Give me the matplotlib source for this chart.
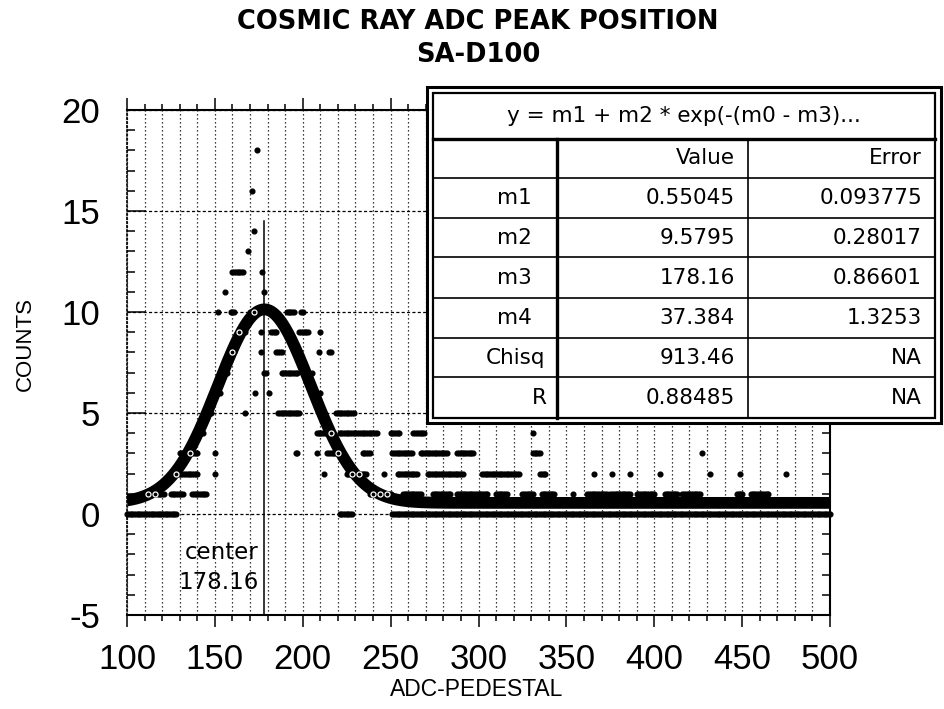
import numpy as np
import matplotlib
matplotlib.use("Agg")
import matplotlib.pyplot as plt
from matplotlib.ticker import MultipleLocator
from matplotlib.patches import Rectangle
from matplotlib.lines import Line2D

plt.rcParams["axes.unicode_minus"] = False

# ---- fit results -------------------------------------------------------
param_names = ["m1", "m2", "m3", "m4", "Chisq", "R"]
param_values = [0.55045, 9.5795, 178.16, 37.384, 913.46, 0.88485]
param_errors = [0.093775, 0.28017, 0.86601, 1.3253, None, None]
fit_formula = "y = m1 + m2 * exp(-(m0 - m3)..."

# ---- measured counts: runs of consecutive ADC channels sharing a count ---
count_runs = {
    0: [(100, 128), (221, 228), (251, 500)],
    1: [(111, 121), (125, 132), (137, 145), (238, 250), (257, 267), (274, 284),
        (288, 305), (310, 316), (325, 331), (336, 343), (354, 354), (362, 373),
        (375, 386), (390, 400), (406, 413), (416, 426), (447, 450), (455, 465)],
    2: [(125, 140), (150, 150), (212, 212), (225, 236), (246, 246), (254, 265),
        (271, 291), (302, 323), (335, 338), (366, 366), (376, 376), (386, 386),
        (403, 403), (432, 432), (449, 449), (475, 475)],
    3: [(130, 140), (150, 150), (196, 197), (208, 208), (214, 221), (234, 238),
        (251, 262), (267, 282), (288, 297), (331, 335), (427, 427)],
    4: [(141, 143), (208, 217), (221, 242), (250, 255), (263, 269), (331, 331)],
    5: [(145, 148), (167, 167), (186, 198), (219, 229)],
    6: [(150, 153), (173, 173), (181, 181), (210, 210)],
    7: [(157, 157), (178, 179), (188, 197), (205, 205)],
    8: [(160, 161), (176, 176), (185, 188), (209, 209), (215, 216)],
    9: [(164, 167), (176, 176), (182, 185), (198, 203), (210, 210)],
    10: [(152, 152), (159, 161), (170, 172), (181, 183), (191, 195), (199, 200)],
    11: [(156, 156), (178, 178)],
    12: [(160, 166), (177, 177)],
    13: [(169, 169)],
    14: [(172, 172)],
    16: [(171, 171)],
    18: [(174, 174)],
}

x_ticks = [100, 150, 200, 250, 300, 350, 400, 450, 500]
y_ticks = [-5, 0, 5, 10, 15, 20]

# ---- expand runs into points -------------------------------------------
pts_x, pts_y = [], []
for c, runs in count_runs.items():
    for a, b in runs:
        xs = np.arange(a, b + 1)
        pts_x.extend(xs)
        pts_y.extend([c] * len(xs))
pts_x = np.array(pts_x, dtype=float)
pts_y = np.array(pts_y, dtype=float)

m1, m2, m3, m4 = param_values[:4]


def gauss(x):
    return m1 + m2 * np.exp(-((x - m3) / m4) ** 2)


# ---- figure --------------------------------------------------------------
W, H = 944, 709
fig = plt.figure(figsize=(W / 100, H / 100), dpi=100)
ax = fig.add_axes([127 / W, (H - 615) / H, (830 - 127) / W, (615 - 110) / H])
ax.set_xlim(100, 500)
ax.set_ylim(-5, 20)

ax.xaxis.set_major_locator(MultipleLocator(50))
ax.xaxis.set_minor_locator(MultipleLocator(10))
ax.yaxis.set_major_locator(MultipleLocator(5))
ax.yaxis.set_minor_locator(MultipleLocator(1))
ax.set_xticks(x_ticks)
ax.set_yticks(y_ticks)

tick_font = dict(family=["Liberation Sans", "DejaVu Sans"], size=25)
ax.set_xticklabels([str(v) for v in x_ticks], fontdict=tick_font)
ax.set_yticklabels([str(v) for v in y_ticks], fontdict=tick_font)

ax.tick_params(axis="x", which="both", direction="out", top=True, bottom=True,
               width=1.1, color="black")
ax.tick_params(axis="x", which="major", length=8.5, pad=12)
ax.tick_params(axis="x", which="minor", length=4.5)
ax.tick_params(axis="y", which="both", direction="in", left=True, right=True,
               width=1.1, color="black")
ax.tick_params(axis="y", which="major", length=13.5, pad=19.5)
ax.tick_params(axis="y", which="minor", length=5.5)

for side in ["top", "bottom", "right"]:
    ax.spines[side].set_linewidth(1.5)
ax.spines["left"].set_linewidth(1.2)
ax.spines["left"].set_linestyle((0, (1, 1.5)))

ax.xaxis.grid(True, which="both", color="black", linestyle=(0, (1, 2.2)), linewidth=0.9)
ax.yaxis.grid(True, which="major", color="black", linestyle=(0, (2.5, 1.8)), linewidth=0.9)
ax.set_axisbelow(True)

# data points
ax.plot(pts_x, pts_y, linestyle="none", marker="o", markersize=3.4,
        color="black", zorder=3, clip_on=False)

# fitted gaussian
xf = np.linspace(100, 500, 1601)
ax.plot(xf, gauss(xf), color="black", linewidth=8.5, solid_capstyle="butt", zorder=4)

# points hidden under the fitted band shown as light open circles
on_band = (np.abs(pts_y - gauss(pts_x)) < 0.35) & ((pts_x.astype(int) % 4) == 0)
ax.plot(pts_x[on_band], pts_y[on_band], linestyle="none", marker="o",
        markersize=3.6, markerfacecolor="none", markeredgecolor="white",
        markeredgewidth=0.9, zorder=5)

# center marker
ax.plot([m3, m3], [-5, 14.5], color="black", linewidth=1.1, zorder=6)
ax.annotate(f"center\n{m3:.2f}", xy=(m3, -2.65), xytext=(-4, 0),
            textcoords="offset points", ha="right", va="center",
            family="DejaVu Sans", fontsize=16.5, linespacing=1.35, zorder=7)

# ---- overlay in pixel coordinates: titles, labels, table -----------------
ov = fig.add_axes([0, 0, 1, 1], zorder=10)
ov.set_xlim(0, W)
ov.set_ylim(H, 0)
ov.axis("off")

ov.text(478, 22, "COSMIC RAY ADC PEAK POSITION", ha="center", va="center",
        family="DejaVu Sans", fontweight="bold", fontsize=18.5)
ov.text(478, 55, "SA-D100", ha="center", va="center",
        family="DejaVu Sans", fontweight="bold", fontsize=18.5)
ov.text(25, 344, "COUNTS", ha="center", va="center", rotation=90,
        family=["Liberation Sans", "DejaVu Sans"], fontsize=16)
ov.text(477, 689, "ADC-PEDESTAL", ha="center", va="center",
        family=["Liberation Sans", "DejaVu Sans"], fontsize=16.5)

# table frame
x0o, x1o, y0o, y1o = 427, 941, 87, 423
x0, x1, y0, y1 = 433, 935, 93, 418
ov.add_patch(Rectangle((x0o, y0o), x1o - x0o, y1o - y0o, facecolor="white",
                       edgecolor="black", linewidth=2.2))
ov.add_patch(Rectangle((x0, y0), x1 - x0, y1 - y0, facecolor="white",
                       edgecolor="black", linewidth=1.6))
header_bottom = 139
row_lines = [178, 218, 257, 298, 338, 377]
col1, col2 = 557, 748
ov.add_line(Line2D([x0, x1], [header_bottom, header_bottom], color="black", linewidth=2.4))
for yl in row_lines:
    ov.add_line(Line2D([x0, x1], [yl, yl], color="black", linewidth=1.2))
ov.add_line(Line2D([col1, col1], [header_bottom, y1], color="black", linewidth=2.4))
ov.add_line(Line2D([col2, col2], [header_bottom, y1], color="black", linewidth=1.2))

tfont = dict(family="DejaVu Sans", fontsize=15.5)
ov.text((x0 + x1) / 2, (y0 + header_bottom) / 2, fit_formula,
        ha="center", va="center", **tfont)
yc_head = (header_bottom + row_lines[0]) / 2
ov.text(735, yc_head, "Value", ha="right", va="center", **tfont)
ov.text(922, yc_head, "Error", ha="right", va="center", **tfont)

row_tops = row_lines
row_bottoms = row_lines[1:] + [y1]
label_right = [532, 532, 532, 532, 545, 547]
for i, name in enumerate(param_names):
    yc = (row_tops[i] + row_bottoms[i]) / 2
    ov.text(label_right[i], yc, name, ha="right", va="center", **tfont)
    ov.text(735, yc, str(param_values[i]), ha="right", va="center", **tfont)
    err = "NA" if param_errors[i] is None else str(param_errors[i])
    ov.text(922, yc, err, ha="right", va="center", **tfont)

fig.savefig("out.png", dpi=100, facecolor="white")
